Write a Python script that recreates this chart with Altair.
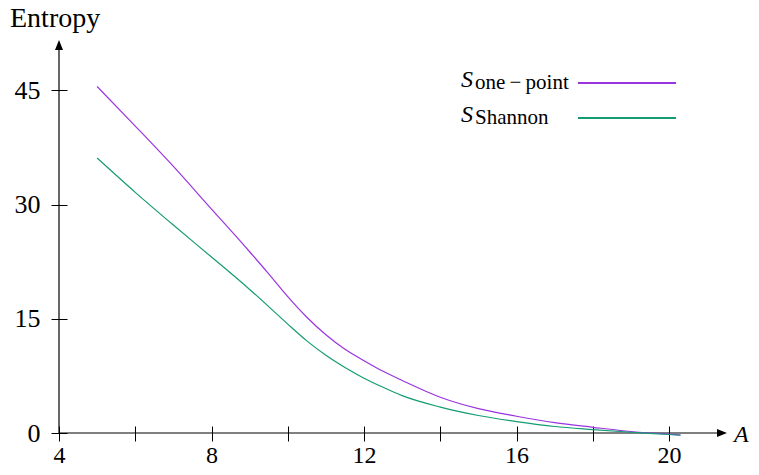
import altair as alt
import pandas as pd

# ---------------- data ----------------
a_one = [5, 6, 7, 8, 9, 9.5, 10, 10.5, 11, 11.5, 12, 12.5, 13, 14, 15, 16, 17, 18, 19, 20, 20.3]
s_one = [45.5, 40.3, 35.0, 29.4, 23.8, 20.9, 17.9, 15.2, 12.9, 11.0, 9.5, 8.1, 6.9, 4.7, 3.2, 2.2, 1.35, 0.75, 0.2, -0.15, -0.25]

a_sh = [5, 6, 7, 8, 9, 9.5, 10, 10.5, 11, 11.5, 12, 12.5, 13, 14, 15, 16, 17, 18, 19, 20, 20.3]
s_sh = [36.1, 31.6, 27.3, 23.1, 18.85, 16.6, 14.3, 12.1, 10.2, 8.6, 7.2, 6.0, 4.9, 3.4, 2.3, 1.5, 0.85, 0.45, 0.1, -0.2, -0.3]

series_names = ["S_one-point", "S_Shannon"]
series_colors = ["#9a34e0", "#149c73"]
legend_subs = ["one\u2009\u2212\u2009point", "Shannon"]

x_ticks = [4, 6, 8, 10, 12, 14, 16, 18, 20]
y_ticks = [0, 15, 30, 45]
X_DOMAIN = [4, 21.52]
Y_DOMAIN = [0, 51.6]

FONT = "Liberation Serif, DejaVu Serif, serif"

df = pd.concat([
    pd.DataFrame({"A": a_one, "S": s_one, "series": series_names[0]}),
    pd.DataFrame({"A": a_sh, "S": s_sh, "series": series_names[1]}),
])

xs = alt.Scale(domain=X_DOMAIN, nice=False, zero=False)
ys = alt.Scale(domain=Y_DOMAIN, nice=False, zero=False)

x_axis = alt.Axis(values=x_ticks, labelExpr="datum.value % 4 == 0 ? datum.label : ''",
                  tickSize=15, offset=-7, domain=False, grid=False, title=None,
                  labelFont=FONT, labelFontSize=24, labelPadding=2, labelColor="black",
                  tickColor="black", tickWidth=1, labelFlush=False, labelOverlap=False)
y_axis = alt.Axis(values=y_ticks, tickSize=16, offset=-8, domain=False, grid=False, title=None,
                  labelFont=FONT, labelFontSize=26, labelPadding=11, labelColor="black",
                  tickColor="black", tickWidth=1, labelFlush=False, labelOverlap=False)

# axis lines
xline = alt.Chart(pd.DataFrame({"A": [X_DOMAIN[0]], "A2": [X_DOMAIN[1] - 0.2], "S": [0]})).mark_rule(
    color="black", strokeWidth=1.2).encode(
    x=alt.X("A:Q", scale=xs, axis=x_axis), x2="A2:Q", y=alt.Y("S:Q", scale=ys, axis=y_axis))
yline = alt.Chart(pd.DataFrame({"A": [X_DOMAIN[0]], "S": [0], "S2": [Y_DOMAIN[1] - 0.5]})).mark_rule(
    color="black", strokeWidth=1.2).encode(
    x=alt.X("A:Q", scale=xs), y=alt.Y("S:Q", scale=ys), y2="S2:Q")

xarrow = alt.Chart(pd.DataFrame({"A": [X_DOMAIN[1]], "S": [0]})).mark_point(
    shape="M-1,-0.4L0,0L-1,0.4Z", filled=True, size=400, color="black", opacity=1).encode(
    x=alt.X("A:Q", scale=xs), y=alt.Y("S:Q", scale=ys))
yarrow = alt.Chart(pd.DataFrame({"A": [X_DOMAIN[0]], "S": [Y_DOMAIN[1]]})).mark_point(
    shape="M-0.4,1L0,0L0.4,1Z", filled=True, size=400, color="black", opacity=1).encode(
    x=alt.X("A:Q", scale=xs), y=alt.Y("S:Q", scale=ys))

curves = alt.Chart(df).mark_line(strokeWidth=1.2, interpolate="monotone", clip=False).encode(
    x=alt.X("A:Q", scale=xs),
    y=alt.Y("S:Q", scale=ys),
    color=alt.Color("series:N", scale=alt.Scale(domain=series_names, range=series_colors), legend=None),
)

# axis titles
ytitle = alt.Chart(pd.DataFrame({"t": ["Entropy"]})).mark_text(
    align="left", baseline="alphabetic", font=FONT, fontSize=28, color="black").encode(
    text="t:N", x=alt.value(-49), y=alt.value(-13))
xtitle = alt.Chart(pd.DataFrame({"t": ["A"]})).mark_text(
    align="left", baseline="alphabetic", font=FONT, fontSize=24, fontStyle="italic", color="black").encode(
    text="t:N", x=alt.value(675), y=alt.value(402))

# legend (label on the left, line sample on the right)
legend_layers = []
for i, (sub, col) in enumerate(zip(legend_subs, series_colors)):
    base_y = 47 + 35 * i
    legend_layers.append(alt.Chart(pd.DataFrame({"t": ["S"]})).mark_text(
        align="left", baseline="alphabetic", font=FONT, fontSize=24, fontStyle="italic", color="black").encode(
        text="t:N", x=alt.value(402), y=alt.value(base_y)))
    legend_layers.append(alt.Chart(pd.DataFrame({"t": [sub]})).mark_text(
        align="left", baseline="alphabetic", font=FONT, fontSize=21, color="black").encode(
        text="t:N", x=alt.value(416), y=alt.value(base_y + 2)))
    legend_layers.append(alt.Chart(pd.DataFrame({"c": [col]})).mark_rule(
        strokeWidth=2, color=col).encode(
        x=alt.value(519), x2=alt.value(617), y=alt.value(base_y - 4)))

chart = alt.layer(xline, yline, xarrow, yarrow, curves, ytitle, xtitle, *legend_layers).properties(
    width=668, height=393,
    padding={"left": 51, "top": 32, "right": 24, "bottom": 34},
    autosize=alt.AutoSizeParams(type="none"),
).configure_view(stroke=None)

chart.save("out.html", embed_options={"renderer": "svg", "actions": False})
